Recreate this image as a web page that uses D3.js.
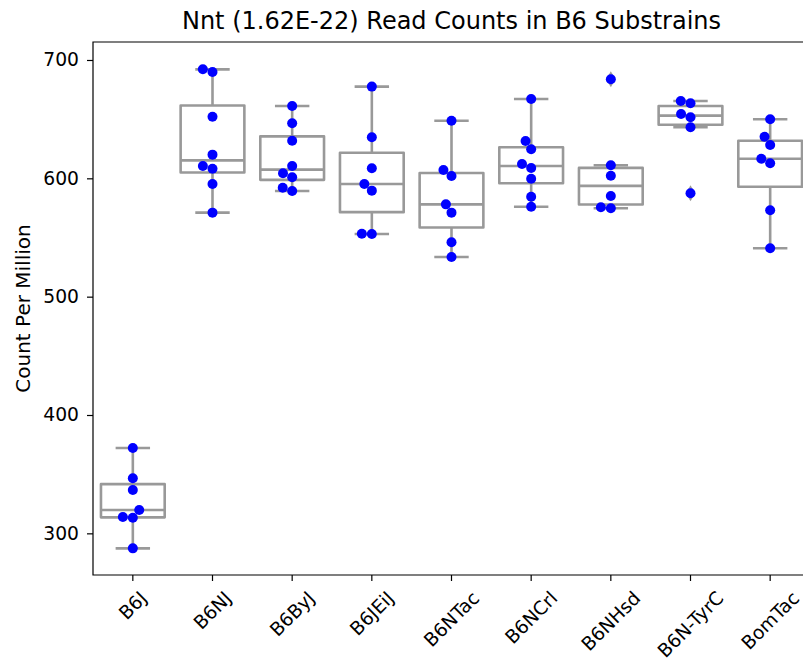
<!DOCTYPE html>
<html>
<head>
<meta charset="utf-8">
<script src="https://cdn.jsdelivr.net/npm/d3@7"></script>
<style>
  body { margin: 0; background: #fff; }
  text { font-family: "DejaVu Sans", sans-serif; }
</style>
</head>
<body>
<div id="chart"></div>
<script>
// substrains shown along the x axis
const strains = ["B6J", "B6NJ", "B6ByJ", "B6JEiJ", "B6NTac", "B6NCrl", "B6NHsd", "B6N-TyrC", "BomTac"];

// read counts per sample (count per million), one list per substrain
const cpmB6J = [372.1, 346.5, 336.6, 319.7, 313.8, 313.2, 287.3];
const cpmB6NJ = [692.1, 689.9, 652.1, 620.0, 610.4, 608.1, 595.2, 571.0];
const cpmB6ByJ = [661.1, 646.5, 631.8, 610.4, 604.3, 600.9, 592.1, 589.3];
const cpmB6JEiJ = [677.5, 634.7, 608.5, 595.2, 589.6, 553.2, 553.0];
const cpmB6NTac = [648.7, 607.0, 602.0, 578.0, 571.0, 546.0, 533.5];
const cpmB6NCrl = [667.0, 631.5, 624.5, 612.1, 608.7, 599.7, 584.5, 576.0];
const cpmB6NHsd = [683.7, 611.0, 602.2, 585.1, 575.5, 574.7];
const cpmB6NTyrC = [665.4, 663.4, 654.4, 651.6, 643.1, 587.4];
const cpmBomTac = [649.9, 635.2, 628.2, 616.6, 612.7, 573.0, 540.9];

const yTicks = [300, 400, 500, 600, 700];

const series = [cpmB6J, cpmB6NJ, cpmB6ByJ, cpmB6JEiJ, cpmB6NTac, cpmB6NCrl, cpmB6NHsd, cpmB6NTyrC, cpmBomTac];

const width = 803, height = 666;
const margin = { left: 93, top: 42, right: 810, bottom: 575 };
const tickFont = 18.7;

const svg = d3.select("#chart").append("svg")
  .attr("width", width)
  .attr("height", height);

const x = d3.scaleBand()
  .domain(strains)
  .range([margin.left, margin.right])
  .padding(0);

const y = d3.scaleLinear()
  .domain([264.8, 715.2])
  .range([margin.bottom, margin.top]);

const boxColor = "#999999";
const boxW = x.bandwidth() * 0.8;
const capW = boxW * 0.54;
const dotR = 5;

// kotak + whisker, gaya seaborn (Tukey 1.5 IQR)
series.forEach((vals, i) => {
  const cx = x(strains[i]) + x.bandwidth() / 2;
  const sorted = vals.slice().sort(d3.ascending);
  const q1 = d3.quantile(sorted, 0.25);
  const med = d3.quantile(sorted, 0.5);
  const q3 = d3.quantile(sorted, 0.75);
  const iqr = q3 - q1;
  const inside = sorted.filter(v => v >= q1 - 1.5 * iqr && v <= q3 + 1.5 * iqr);
  const lo = d3.min(inside), hi = d3.max(inside);
  const fliers = sorted.filter(v => v < q1 - 1.5 * iqr || v > q3 + 1.5 * iqr);

  const g = svg.append("g")
    .attr("stroke", boxColor)
    .attr("stroke-width", 2.6)
    .attr("fill", "none")
    .attr("stroke-linejoin", "round");

  g.append("line").attr("x1", cx).attr("x2", cx).attr("y1", y(q3)).attr("y2", y(hi));
  g.append("line").attr("x1", cx).attr("x2", cx).attr("y1", y(q1)).attr("y2", y(lo));
  g.append("line").attr("x1", cx - capW / 2).attr("x2", cx + capW / 2).attr("y1", y(hi)).attr("y2", y(hi));
  g.append("line").attr("x1", cx - capW / 2).attr("x2", cx + capW / 2).attr("y1", y(lo)).attr("y2", y(lo));
  g.append("rect")
    .attr("x", cx - boxW / 2)
    .attr("y", y(q3))
    .attr("width", boxW)
    .attr("height", y(q1) - y(q3))
    .attr("fill", "white");
  g.append("line").attr("x1", cx - boxW / 2).attr("x2", cx + boxW / 2).attr("y1", y(med)).attr("y2", y(med));

  // flier = diamond abu-abu di belakang titik
  fliers.forEach(v => {
    svg.append("path")
      .attr("d", d3.symbol(d3.symbolDiamond, 74)())
      .attr("transform", "translate(" + cx + "," + y(v) + ")")
      .attr("fill", boxColor);
  });
});

// swarm: titik ditempatkan dari nilai terkecil, sedekat mungkin ke tengah
function swarm(vals) {
  const gap = 10;
  const placed = [];
  vals.slice().sort(d3.ascending).forEach(v => {
    const py = y(v);
    const cand = [0];
    placed.forEach(p => {
      const dy = Math.abs(p.y - py);
      if (dy < gap) {
        const dx = Math.sqrt(gap * gap - dy * dy);
        cand.push(p.dx - dx, p.dx + dx);
      }
    });
    cand.sort((a, b) => (Math.abs(a) - Math.abs(b)) || (a - b));
    const ok = cand.find(c => placed.every(p => {
      const ddx = p.dx - c, ddy = p.y - py;
      return ddx * ddx + ddy * ddy >= gap * gap - 0.01;
    }));
    placed.push({ v: v, y: py, dx: ok });
  });
  return placed;
}

series.forEach((vals, i) => {
  const cx = x(strains[i]) + x.bandwidth() / 2;
  svg.append("g").selectAll("circle")
    .data(swarm(vals))
    .enter()
    .append("circle")
    .attr("cx", d => cx + d.dx)
    .attr("cy", d => d.y)
    .attr("r", dotR)
    .attr("fill", "#0000ff");
});

// sumbu
const yAxis = svg.append("g")
  .attr("transform", "translate(" + margin.left + ",0)")
  .call(d3.axisLeft(y).tickValues(yTicks).tickSize(6).tickPadding(8));
yAxis.select(".domain").remove();
yAxis.selectAll("line").attr("stroke-width", 1.2);
yAxis.selectAll("text").style("font-size", tickFont + "px").attr("fill", "#000");

const xAxis = svg.append("g")
  .attr("transform", "translate(0," + margin.bottom + ")")
  .call(d3.axisBottom(x).tickSize(6).tickPadding(0));
xAxis.select(".domain").remove();
xAxis.selectAll("line").attr("stroke-width", 1.2);
// label diputar 45 derajat di sekitar pusatnya (seperti matplotlib ha=center)
xAxis.selectAll("text")
  .style("font-size", tickFont + "px")
  .attr("fill", "#000")
  .attr("text-anchor", "middle")
  .attr("dy", "0.35em")
  .attr("y", 0)
  .attr("transform", function () {
    const w = this.getComputedTextLength();
    const h = tickFont * 1.17;
    const half = (w + h) / (2 * Math.SQRT2);
    return "translate(0," + (12 + half) + ") rotate(-45)";
  });

// spines
svg.append("path")
  .attr("d", "M" + margin.right + "," + margin.top + "H" + margin.left + "V" + margin.bottom + "H" + margin.right)
  .attr("fill", "none")
  .attr("stroke", "#000")
  .attr("stroke-width", 1.2);

svg.append("text")
  .attr("x", (margin.left + margin.right) / 2)
  .attr("y", 29)
  .attr("text-anchor", "middle")
  .style("font-size", "24px")
  .text("Nnt (1.62E-22) Read Counts in B6 Substrains");

svg.append("text")
  .attr("transform", "translate(30," + (margin.top + margin.bottom) / 2 + ") rotate(-90)")
  .attr("text-anchor", "middle")
  .style("font-size", "20px")
  .text("Count Per Million");
</script>
</body>
</html>
